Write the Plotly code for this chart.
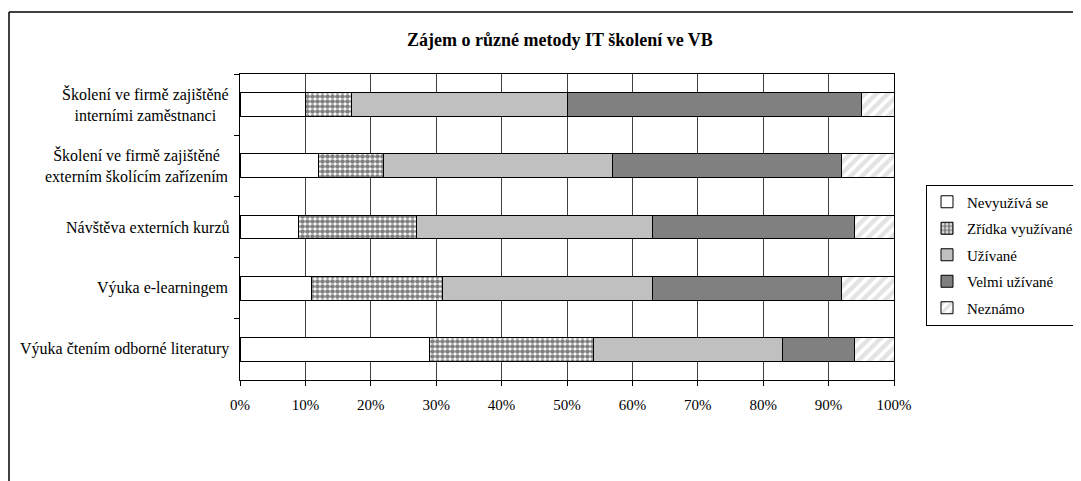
import plotly.graph_objects as go

categories = [
    "Školení ve firmě zajištěné<br>interními zaměstnanci",
    "Školení ve firmě zajištěné<br>externím školícím zařízením",
    "Návštěva externích kurzů",
    "Výuka e-learningem",
    "Výuka čtením odborné literatury",
]
series_names = ["Nevyužívá se", "Zřídka využívané", "Užívané", "Velmi užívané", "Neznámo"]
nevyuziva = [10, 12, 9, 11, 29]
zridka = [7, 10, 18, 20, 25]
uzivane = [33, 35, 36, 32, 29]
velmi = [45, 35, 31, 29, 11]
neznamo = [5, 8, 6, 8, 6]
x_ticks = [0, 10, 20, 30, 40, 50, 60, 70, 80, 90, 100]
x_tick_labels = [f"{v}%" for v in x_ticks]
title_text = "Zájem o různé metody IT školení ve VB"

# page body has an 8px margin; work in screen pixels and convert
OFF = 8
W, H = 1081 - OFF, 481 - OFF
ML, MT = 240 - OFF, 74 - OFF
PR, PB = 894 - OFF, 380 - OFF
MR, MB = W - PR, H - PB
PW, PH = PR - ML, PB - MT

FONT = "Liberation Serif"

styles = [
    dict(color="white"),
    dict(color="white", pattern=dict(shape=".", fgcolor="black", bgcolor="white", size=5, solidity=0.7, fillmode="overlay")),
    dict(color="#c0c0c0"),
    dict(color="#808080"),
    dict(color="white", pattern=dict(shape="/", fgcolor="#c8c8c8", bgcolor="white", size=8, solidity=0.55, fillmode="overlay")),
]
values = [nevyuziva, zridka, uzivane, velmi, neznamo]

fig = go.Figure()
for i, (name, vals, st) in enumerate(zip(series_names, values, styles)):
    fig.add_trace(go.Bar(
        y=categories, x=vals, name=name, orientation="h",
        marker=dict(line=dict(color="black", width=1), **st),
        legendgroup=f"g{i}",
    ))

def px_x(sx):
    return (sx - OFF - ML) / PW

def px_y(sy):
    return (PB - (sy - OFF)) / PH

annotations = []
for c in categories:
    annotations.append(dict(
        x=0, xref="paper", y=c, yref="y", text=c, showarrow=False,
        xanchor="right", xshift=-9, align="center",
        font=dict(family=FONT, size=16, color="black"),
    ))
annotations.append(dict(
    x=px_x(560), xref="paper", y=px_y(40), yref="paper", text=f"<b>{title_text}</b>",
    showarrow=False, xanchor="center", yanchor="middle",
    font=dict(family=FONT, size=18, color="black"),
))

shapes = [
    dict(type="line", xref="paper", yref="paper", x0=px_x(9), x1=px_x(1100), y0=px_y(12), y1=px_y(12),
         line=dict(color="black", width=1.5)),
    dict(type="line", xref="paper", yref="paper", x0=px_x(9), x1=px_x(9), y0=px_y(12), y1=px_y(500),
         line=dict(color="black", width=1.5)),
]

fig.update_layout(
    width=W, height=H,
    margin=dict(l=ML, r=MR, t=MT, b=MB, autoexpand=False),
    barmode="stack", bargap=0.61,
    paper_bgcolor="white", plot_bgcolor="white",
    font=dict(family=FONT, size=15, color="black"),
    showlegend=True,
    legend=dict(
        x=px_x(926), xanchor="left", y=px_y(255), yanchor="middle",
        bordercolor="black", borderwidth=1, bgcolor="white",
        font=dict(family=FONT, size=15), traceorder="grouped", tracegroupgap=4,
    ),
    xaxis=dict(
        range=[0, 100], tickvals=x_ticks, ticktext=x_tick_labels,
        showgrid=True, gridcolor="#404040", gridwidth=1,
        showline=True, linecolor="black", linewidth=1, mirror=True,
        ticks="outside", ticklen=5, tickcolor="black", ticklabelstandoff=6,
        zeroline=False, tickfont=dict(family=FONT, size=15),
    ),
    yaxis=dict(
        autorange="reversed", showticklabels=False, tickson="boundaries",
        ticks="outside", ticklen=5, tickcolor="black",
        showline=True, linecolor="black", linewidth=1, mirror=True,
        showgrid=False,
    ),
    annotations=annotations, shapes=shapes,
)

fig.write_html("out.html")
